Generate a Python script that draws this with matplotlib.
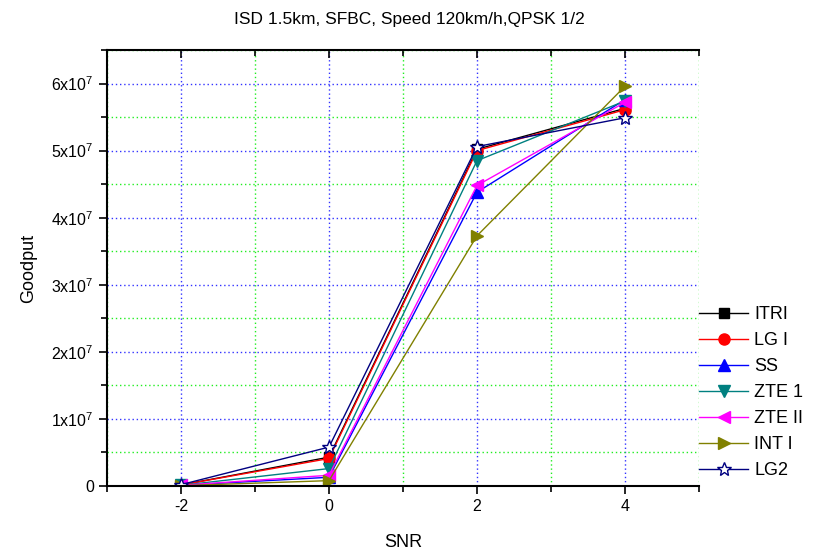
import matplotlib
matplotlib.use('Agg')
import matplotlib.pyplot as plt
from matplotlib.ticker import MultipleLocator, FuncFormatter

plt.rcParams['font.family'] = ['Liberation Sans', 'DejaVu Sans']
plt.rcParams['mathtext.fontset'] = 'custom'
plt.rcParams['mathtext.rm'] = 'Liberation Sans'
plt.rcParams['mathtext.default'] = 'regular'
plt.rcParams['axes.unicode_minus'] = False

snr = [-2, 0, 2, 4]

itri = [1.5e5, 4.3e6, 5.02e7, 5.63e7]
lg1 = [1.5e5, 4.1e6, 5.0e7, 5.61e7]
ss = [1.0e5, 1.3e6, 4.38e7, 5.76e7]
zte1 = [1.0e5, 2.6e6, 4.85e7, 5.74e7]
zte2 = [1.0e5, 1.6e6, 4.48e7, 5.72e7]
int1 = [0.5e5, 0.8e6, 3.73e7, 5.96e7]
lg2 = [2.0e5, 5.8e6, 5.06e7, 5.49e7]

fig = plt.figure(figsize=(8.27, 5.54), dpi=100)
ax = fig.add_axes([107/827, 1 - 486/554, (699-107)/827, (486-50)/554])

ax.plot(snr, itri, color='black', marker='s', ms=7, lw=1, label='ITRI')
ax.plot(snr, lg1, color='red', marker='o', ms=8, lw=1, label='LG I')
ax.plot(snr, ss, color='blue', marker='^', ms=8, lw=1, label='SS')
ax.plot(snr, zte1, color='#008080', marker='v', ms=8, lw=1, label='ZTE 1')
ax.plot(snr, zte2, color='magenta', marker='<', ms=8, lw=1, label='ZTE II')
ax.plot(snr, int1, color='#808000', marker='>', ms=9, lw=1, label='INT I')
ax.plot(snr, lg2, color='#000080', marker='*', ms=10, lw=1, mfc='white',
        mec='#000080', label='LG2')

ax.set_xlim(-3, 5)
ax.set_ylim(0, 6.5e7)
ax.xaxis.set_major_locator(MultipleLocator(2))
ax.xaxis.set_minor_locator(MultipleLocator(1))
ax.yaxis.set_major_locator(MultipleLocator(1e7))
ax.yaxis.set_minor_locator(MultipleLocator(5e6))

def yfmt(v, pos):
    n = int(round(v / 1e7))
    if n == 0:
        return '0'
    return r'$%dx10^{7}$' % n

ax.yaxis.set_major_formatter(FuncFormatter(yfmt))

ax.grid(which='major', color='#3333ff', linestyle=(0, (1, 2)), lw=1)
ax.grid(which='minor', color='#22ee22', linestyle=(0, (1, 2)), lw=1)
ax.set_axisbelow(True)

ax.spines['right'].set_visible(False)
for s in ['left', 'bottom', 'top']:
    ax.spines[s].set_linewidth(1.5)

ax.tick_params(which='both', direction='out', width=1.2, labelsize=11.5)
ax.tick_params(which='major', length=6)
ax.tick_params(which='minor', length=4)
# top axis: ticks pointing into the plot, no labels
ax.tick_params(axis='x', which='both', top=True, labeltop=False)
for t in ax.xaxis.get_major_ticks() + ax.xaxis.get_minor_ticks():
    t.tick2line.set_marker(3)  # TICKDOWN

ax.set_xlabel('SNR', fontsize=13, labelpad=14)
ax.set_ylabel('Goodput', fontsize=13, labelpad=10)
fig.suptitle('ISD 1.5km, SFBC, Speed 120km/h,QPSK 1/2', fontsize=12.5, y=0.978, x=0.495)

ax.legend(loc='upper left', bbox_to_anchor=(692/827, 1 - 299/554),
          bbox_transform=fig.transFigure, frameon=False, fontsize=13,
          handlelength=2.7, labelspacing=0.5, borderaxespad=0, handletextpad=0.35)

fig.savefig('out.png', dpi=100)
